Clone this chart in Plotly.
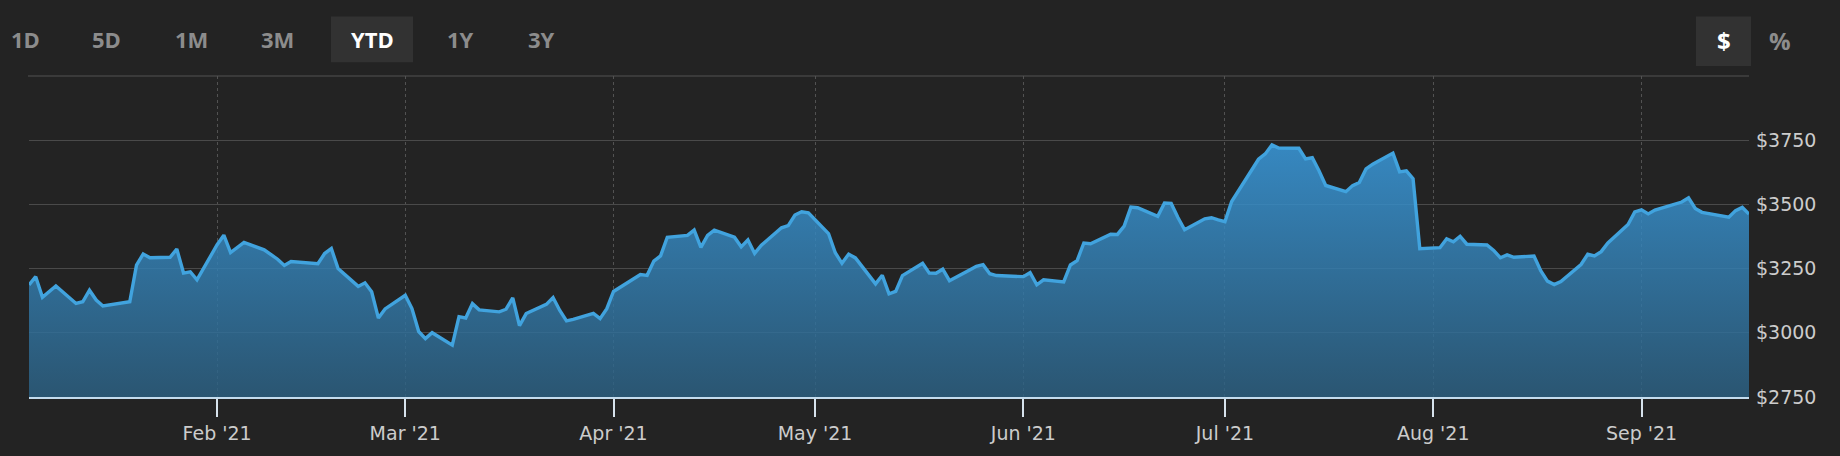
import plotly.graph_objects as go

# ---- data ----
dates = [
    "2021-01-04", "2021-01-05", "2021-01-06", "2021-01-07", "2021-01-08", "2021-01-11", "2021-01-12",
    "2021-01-13", "2021-01-14", "2021-01-15", "2021-01-19", "2021-01-20", "2021-01-21", "2021-01-22",
    "2021-01-25", "2021-01-26", "2021-01-27", "2021-01-28", "2021-01-29",
    "2021-02-01", "2021-02-02", "2021-02-03", "2021-02-04", "2021-02-05", "2021-02-08", "2021-02-09",
    "2021-02-10", "2021-02-11", "2021-02-12", "2021-02-16", "2021-02-17", "2021-02-18", "2021-02-19",
    "2021-02-22", "2021-02-23", "2021-02-24", "2021-02-25", "2021-02-26",
    "2021-03-01", "2021-03-02", "2021-03-03", "2021-03-04", "2021-03-05", "2021-03-08", "2021-03-09",
    "2021-03-10", "2021-03-11", "2021-03-12", "2021-03-15", "2021-03-16", "2021-03-17", "2021-03-18",
    "2021-03-19", "2021-03-22", "2021-03-23", "2021-03-24", "2021-03-25", "2021-03-26", "2021-03-29",
    "2021-03-30", "2021-03-31",
    "2021-04-01", "2021-04-05", "2021-04-06", "2021-04-07", "2021-04-08", "2021-04-09", "2021-04-12",
    "2021-04-13", "2021-04-14", "2021-04-15", "2021-04-16", "2021-04-19", "2021-04-20", "2021-04-21",
    "2021-04-22", "2021-04-23", "2021-04-26", "2021-04-27", "2021-04-28", "2021-04-29", "2021-04-30",
    "2021-05-03", "2021-05-04", "2021-05-05", "2021-05-06", "2021-05-07", "2021-05-10", "2021-05-11",
    "2021-05-12", "2021-05-13", "2021-05-14", "2021-05-17", "2021-05-18", "2021-05-19", "2021-05-20",
    "2021-05-21", "2021-05-24", "2021-05-25", "2021-05-26", "2021-05-27", "2021-05-28",
    "2021-06-01", "2021-06-02", "2021-06-03", "2021-06-04", "2021-06-07", "2021-06-08", "2021-06-09",
    "2021-06-10", "2021-06-11", "2021-06-14", "2021-06-15", "2021-06-16", "2021-06-17", "2021-06-18",
    "2021-06-21", "2021-06-22", "2021-06-23", "2021-06-24", "2021-06-25", "2021-06-28", "2021-06-29",
    "2021-06-30",
    "2021-07-01", "2021-07-02", "2021-07-06", "2021-07-07", "2021-07-08", "2021-07-09", "2021-07-12",
    "2021-07-13", "2021-07-14", "2021-07-15", "2021-07-16", "2021-07-19", "2021-07-20", "2021-07-21",
    "2021-07-22", "2021-07-23", "2021-07-26", "2021-07-27", "2021-07-28", "2021-07-29", "2021-07-30",
    "2021-08-02", "2021-08-03", "2021-08-04", "2021-08-05", "2021-08-06", "2021-08-09", "2021-08-10",
    "2021-08-11", "2021-08-12", "2021-08-13", "2021-08-16", "2021-08-17", "2021-08-18", "2021-08-19",
    "2021-08-20", "2021-08-23", "2021-08-24", "2021-08-25", "2021-08-26", "2021-08-27", "2021-08-30",
    "2021-08-31",
    "2021-09-01", "2021-09-02", "2021-09-03", "2021-09-07", "2021-09-08", "2021-09-09", "2021-09-10",
    "2021-09-13", "2021-09-14", "2021-09-15", "2021-09-16", "2021-09-17",
]
prices = [
    3186.63, 3218.51, 3138.38, 3162.16, 3182.70, 3114.21, 3120.83,
    3165.89, 3127.47, 3104.25, 3120.76, 3263.38, 3306.99, 3292.23,
    3294.00, 3326.13, 3232.58, 3237.62, 3206.20,
    3342.88, 3380.00, 3312.53, 3331.00, 3352.15, 3322.94, 3305.00,
    3286.58, 3262.13, 3277.71, 3268.95, 3308.64, 3328.23, 3249.90,
    3180.74, 3194.50, 3159.53, 3057.16, 3092.93,
    3146.14, 3094.53, 3005.00, 2977.57, 3000.46, 2951.95, 3062.85,
    3057.64, 3113.59, 3089.49, 3081.68, 3091.86, 3135.73, 3027.99,
    3074.96, 3110.87, 3137.50, 3087.07, 3046.26, 3052.03, 3075.73,
    3055.29, 3094.08,
    3161.00, 3226.73, 3223.82, 3279.39, 3299.30, 3372.20, 3379.39,
    3400.00, 3333.00, 3379.09, 3399.44, 3372.01, 3334.69, 3362.02,
    3309.04, 3340.88, 3409.00, 3417.43, 3458.50, 3471.31, 3467.42,
    3386.49, 3311.87, 3270.54, 3306.37, 3291.61, 3190.49, 3223.91,
    3151.94, 3161.47, 3222.90, 3270.39, 3232.28, 3231.80, 3247.68,
    3203.08, 3244.99, 3259.05, 3265.16, 3230.11, 3223.07,
    3218.65, 3233.99, 3187.01, 3206.22, 3198.01, 3264.11, 3281.15,
    3349.65, 3346.83, 3383.87, 3383.13, 3415.25, 3489.24, 3486.90,
    3453.96, 3505.44, 3503.82, 3449.08, 3401.46, 3443.89, 3448.14,
    3440.16,
    3432.97, 3510.98, 3675.74, 3696.58, 3731.41, 3719.34, 3718.55,
    3677.36, 3681.68, 3631.20, 3573.63, 3549.59, 3573.19, 3585.20,
    3638.03, 3656.64, 3699.82, 3626.39, 3630.32, 3599.92, 3327.59,
    3331.48, 3366.24, 3354.72, 3375.99, 3344.94, 3341.87, 3320.68,
    3292.11, 3303.50, 3293.97, 3298.99, 3241.96, 3201.22, 3187.75,
    3199.95, 3265.87, 3305.78, 3299.18, 3316.00, 3349.63, 3421.57,
    3470.79,
    3479.00, 3463.12, 3478.05, 3509.29, 3525.50, 3484.16, 3469.15,
    3457.17, 3450.00, 3475.79, 3488.24, 3462.52,
]
month_ticks = ["2021-02-01", "2021-03-01", "2021-04-01", "2021-05-01",
               "2021-06-01", "2021-07-01", "2021-08-01", "2021-09-01"]
month_labels = ["Feb '21", "Mar '21", "Apr '21", "May '21",
                "Jun '21", "Jul '21", "Aug '21", "Sep '21"]
price_ticks = [2750, 3000, 3250, 3500, 3750]
price_labels = ["$2750", "$3000", "$3250", "$3500", "$3750"]
range_buttons = ["1D", "5D", "1M", "3M", "YTD", "1Y", "3Y"]
active_button = "YTD"
unit_buttons = ["$", "%"]
active_unit = "$"

# ---- layout geometry (pixels) ----
W, H = 1840, 456
L, R, T, B = 29, 91, 76, 56
PW, PH = W - L - R, H - T - B


def px(xp):
    return (xp - L) / PW


def py(yp):
    return (H - B - yp) / PH


BG = "#232323"

fig = go.Figure()
fig.add_trace(go.Scatter(
    x=dates, y=prices, mode="lines",
    line=dict(color="#41a3de", width=3.4),
    fill="tozeroy",
    fillgradient=dict(
        type="vertical",
        colorscale=[[0, "rgba(44,96,130,0.82)"], [1, "rgba(58,156,224,0.84)"]],
        start=2750, stop=3750,
    ),
    hoverinfo="skip",
    showlegend=False,
))

shapes = []
annotations = []

# top border line
shapes.append(dict(type="line", xref="paper", yref="paper",
                   x0=px(28), x1=1, y0=1, y1=1,
                   line=dict(color="#525252", width=1)))

# range buttons
btn_x = [25, 106, 191, 277, 372, 460, 541]
for label, bx in zip(range_buttons, btn_x):
    active = label == active_button
    if active:
        shapes.append(dict(type="rect", xref="paper", yref="paper",
                           x0=px(331), x1=px(413), y0=py(62), y1=py(16),
                           fillcolor="#323232", line=dict(width=0)))
    annotations.append(dict(
        text=label, xref="paper", yref="paper", x=px(bx), y=py(39),
        xanchor="center", yanchor="middle", showarrow=False,
        font=dict(family="Open Sans", size=22, weight="bold",
                  color="#ffffff" if active else "#8c8c8c"),
    ))

unit_x = [1724, 1780]
for label, ux in zip(unit_buttons, unit_x):
    active = label == active_unit
    if active:
        shapes.append(dict(type="rect", xref="paper", yref="paper",
                           x0=px(1696), x1=px(1751), y0=py(66), y1=py(16),
                           fillcolor="#323232", line=dict(width=0)))
    annotations.append(dict(
        text=label, xref="paper", yref="paper", x=px(ux), y=py(40),
        xanchor="center", yanchor="middle", showarrow=False,
        font=dict(family="Open Sans", size=24, weight="bold",
                  color="#ffffff" if active else "#8c8c8c"),
    ))

fig.update_layout(
    width=W, height=H,
    margin=dict(l=L, r=R, t=T, b=B, pad=0),
    paper_bgcolor=BG, plot_bgcolor=BG,
    shapes=shapes, annotations=annotations,
    hovermode=False,
    xaxis=dict(
        range=["2021-01-04", "2021-09-17"],
        tickmode="array", tickvals=month_ticks, ticktext=month_labels,
        showgrid=True, gridcolor="#525252", gridwidth=1, griddash="dot",
        showline=True, linecolor="#c4dcee", linewidth=2,
        ticks="outside", ticklen=18, tickwidth=2, tickcolor="#d6e2ec",
        tickfont=dict(family="DejaVu Sans", size=19, color="#cccccc"),
        zeroline=False, fixedrange=True,
    ),
    yaxis=dict(
        range=[2750, 4000], side="right",
        tickmode="array", tickvals=price_ticks, ticktext=price_labels,
        showgrid=True, gridcolor="#4a4a4a", gridwidth=1,
        showline=False, ticks="", ticklabelstandoff=6,
        tickfont=dict(family="DejaVu Sans", size=19, color="#cccccc"),
        zeroline=False, fixedrange=True,
    ),
)

fig.write_html(
    "out.html",
    config={"displayModeBar": False, "staticPlot": True},
    post_script=["document.body.style.margin='0';document.body.style.background='#232323';"],
)
